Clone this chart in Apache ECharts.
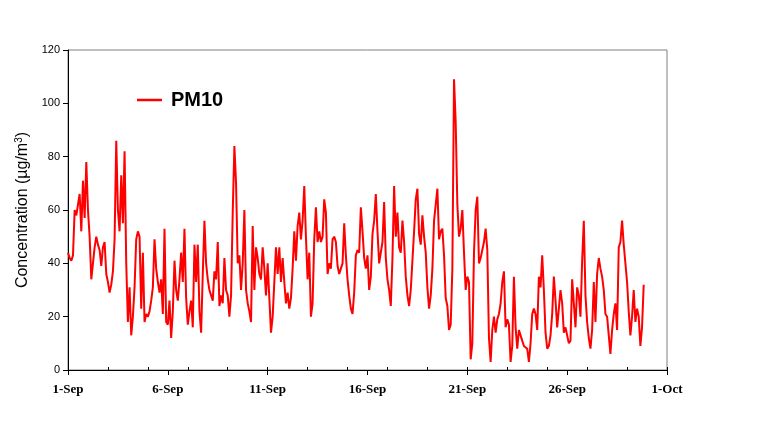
<!DOCTYPE html>
<html>
<head>
<meta charset="utf-8">
<script src="https://cdn.jsdelivr.net/npm/echarts@6/dist/echarts.min.js"></script>
<style>html,body{margin:0;padding:0;background:#fff}#c{width:757px;height:439px}</style>
</head>
<body>
<div id="c"></div>
<script>
// PM10 concentration, 2-hourly readings starting 1-Sep 00:00
const stepHours = 2;
const sep01_05 = [44,42,41,43,60,58,62,66,52,71,57,78,60,50,34,40,46,50,47,45,39,46,48,36,33,29,32,37,49,86,60,52,73,55,82,40,18,31,13,20,31,49,52,50,23,44,18,21,20,22,26,31,49,38,33,29,34,21,53,18];
const sep06_10 = [17,26,12,22,41,30,26,34,44,33,53,27,17,22,26,16,47,33,47,22,14,36,56,40,34,30,28,26,37,34,48,24,28,25,42,30,28,20,28,59,84,70,40,43,30,40,60,30,25,22,18,54,30,46,42,36,34,46,38,28];
const sep11_15 = [40,27,14,20,33,46,36,46,33,42,33,25,29,23,27,38,52,41,54,59,49,56,69,50,34,44,20,25,49,61,48,52,48,50,64,59,36,40,38,49,50,48,39,36,38,40,55,43,34,28,23,21,29,43,45,44,61,52,42,38];
const sep16_20 = [43,30,35,51,56,66,52,40,44,48,63,42,34,30,24,42,69,50,59,46,44,56,48,35,28,24,30,41,52,64,68,51,47,58,50,44,31,23,28,38,56,62,68,49,52,53,43,27,24,15,17,38,109,93,62,50,53,60,44,30];
const sep21_25 = [35,33,4,10,44,60,65,40,42,45,48,53,45,12,3,15,20,14,19,21,25,33,37,16,19,17,3,9,35,16,8,15,13,13,9,9,8,3,10,21,23,21,15,35,31,43,30,14,8,9,13,21,35,26,16,16,30,25,14,16];
const sep26_30 = [16,10,11,34,34,16,31,28,20,41,56,28,18,12,8,15,33,18,36,42,38,35,30,21,20,13,6,15,21,25,15,46,48,56,47,40,33,22,13,20,30,18,23,20,9,16,32];
const xTickLabels = ['1-Sep','6-Sep','11-Sep','16-Sep','21-Sep','26-Sep','1-Oct'];
const yTicks = [0,20,40,60,80,100,120];
const seriesName = 'PM10';

const pm10 = [].concat(sep01_05, sep06_10, sep11_15, sep16_20, sep21_25, sep26_30);
const seriesData = pm10.map((v, i) => [i * stepHours / 24, v]);

const chart = echarts.init(document.getElementById('c'), null, {renderer: 'canvas'});
chart.setOption({
  animation: false,
  backgroundColor: '#ffffff',
  grid: {left: 68, right: 90, top: 50, bottom: 69, show: true, borderColor: '#808080', borderWidth: 1, backgroundColor: 'transparent'},
  legend: {
    show: true, left: 132, top: 85, icon: 'rect', itemWidth: 25, itemHeight: 2.5,
    data: [seriesName],
    textStyle: {fontFamily: 'Arial, "Liberation Sans", sans-serif', fontWeight: 'bold', fontSize: 20, color: '#000', padding: [0,0,0,4]}
  },
  xAxis: [{
    type: 'value', min: 0, max: 30, interval: 5, position: 'bottom',
    axisLine: {show: true, lineStyle: {color: '#000', width: 1}},
    axisTick: {show: true, inside: false, length: 5, lineStyle: {color: '#000'}},
    splitLine: {show: false},
    axisLabel: {
      margin: 13, color: '#000', fontFamily: '"Liberation Serif", "Times New Roman", serif', fontWeight: 'bold', fontSize: 13,
      formatter: v => xTickLabels[Math.round(v / 5)]
    }
  }, {
    type: 'value', min: 0, max: 30, interval: 2, position: 'bottom',
    axisLine: {show: false},
    axisTick: {show: true, inside: true, length: 3, lineStyle: {color: '#000'}},
    splitLine: {show: false},
    axisLabel: {show: false}
  }],
  yAxis: {
    type: 'value', min: yTicks[0], max: yTicks[yTicks.length - 1], interval: 20,
    axisLine: {show: true, lineStyle: {color: '#000', width: 1}},
    axisTick: {show: true, inside: false, length: 5, lineStyle: {color: '#000'}},
    splitLine: {show: false},
    axisLabel: {margin: 8, color: '#000', fontFamily: 'Arial, "Liberation Sans", sans-serif', fontSize: 11},
    name: '{a|Concentration (µg/m}{s|3}{a|)}',
    nameLocation: 'middle', nameGap: 36, nameRotate: 90, nameMoveOverlap: false,
    nameTextStyle: {
      rich: {
        a: {fontFamily: 'Arial, "Liberation Sans", sans-serif', fontSize: 16, color: '#000'},
        s: {fontFamily: 'Arial, "Liberation Sans", sans-serif', fontSize: 10, color: '#000', verticalAlign: 'top', padding: [0,0,8,0]}
      }
    }
  },
  series: [{
    name: seriesName, type: 'line', xAxisIndex: 0, data: seriesData,
    showSymbol: false, symbol: 'none',
    lineStyle: {color: '#ff0000', width: 2},
    itemStyle: {color: '#ff0000'}
  }]
});
</script>
</body>
</html>
